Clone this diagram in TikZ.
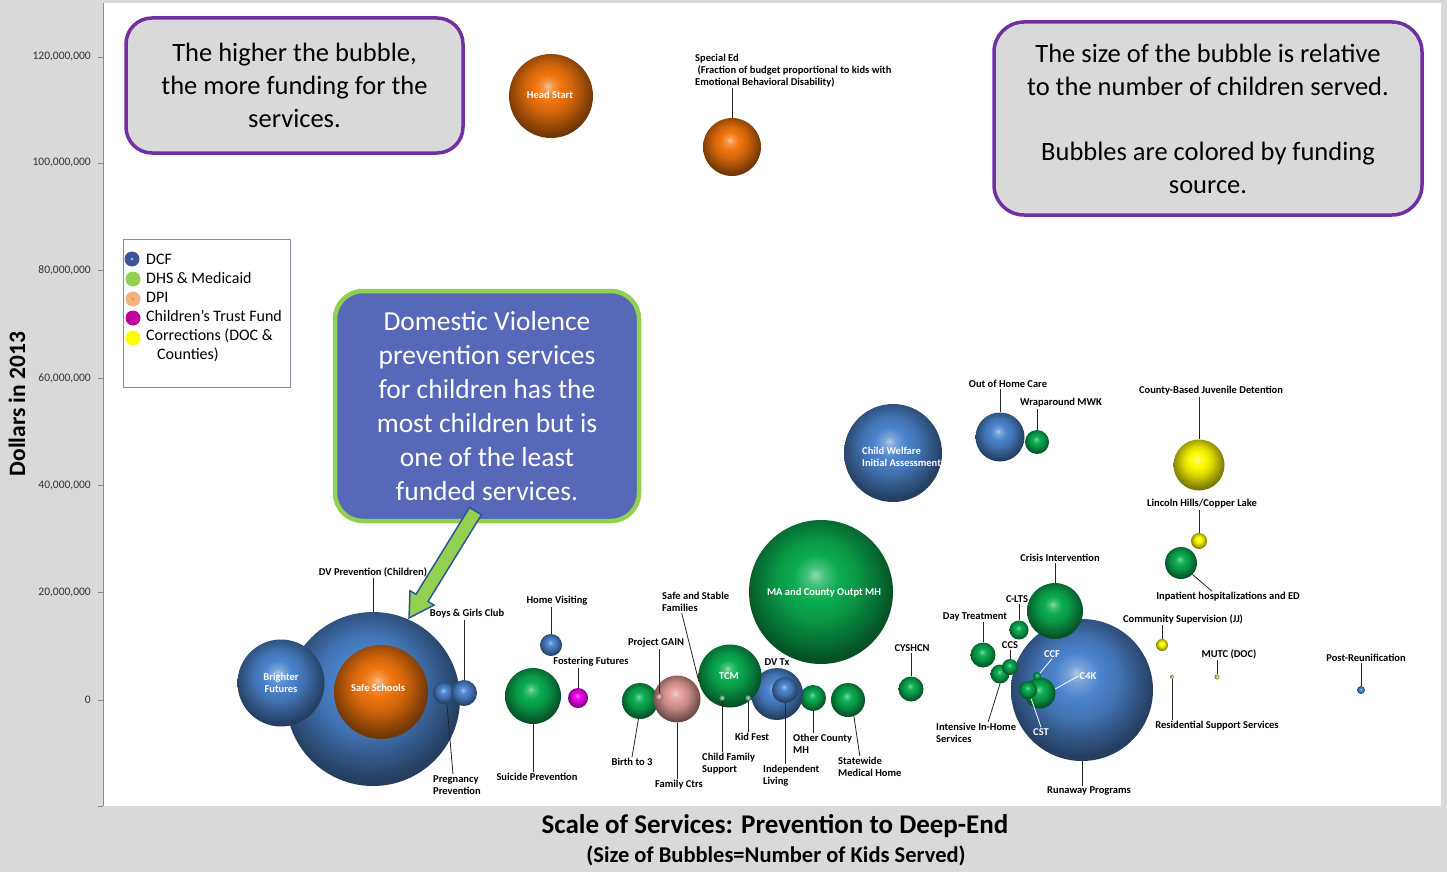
\documentclass[tikz,border=0pt]{standalone}
\usepackage{fontspec}
\setmainfont{Carlito}
\definecolor{pagegray}{RGB}{217,217,217}
\definecolor{notegray}{RGB}{217,217,217}
\definecolor{notepurple}{RGB}{112,48,160}
\definecolor{dvfill}{RGB}{88,104,184}
\definecolor{dvedge}{RGB}{146,208,80}
\definecolor{arrowedge}{RGB}{47,85,151}
\definecolor{bblue}{RGB}{75,132,205}
\definecolor{bgreen}{RGB}{10,172,80}
\definecolor{borange}{RGB}{240,116,12}
\definecolor{byellow}{RGB}{252,248,0}
\definecolor{bmagenta}{RGB}{240,0,240}
\definecolor{bpink}{RGB}{225,155,152}
\definecolor{bpale}{RGB}{205,215,110}
\definecolor{keydcf}{RGB}{62,84,150}
\definecolor{keydhs}{RGB}{146,208,80}
\definecolor{keydpi}{RGB}{244,177,131}
\definecolor{keyctf}{RGB}{192,0,156}
\definecolor{keycor}{RGB}{255,255,0}
\definecolor{keyframe}{RGB}{127,143,169}
% glossy sphere shading, tinted by the colour spherecol
\colorlet{spherecol}{gray}
\pgfdeclareradialshading[spherecol]{sphere}{\pgfqpoint{-2bp}{6bp}}{%
  color(0bp)=(spherecol!45!white); color(3bp)=(spherecol!75!white);
  color(8bp)=(spherecol); color(14bp)=(spherecol!88!black);
  color(20bp)=(spherecol!68!black); color(26bp)=(spherecol!48!black);
  color(50bp)=(spherecol!35!black)}
\begin{document}
\begin{tikzpicture}[x=1pt,y=-1pt,
  sphere color/.code={\colorlet{spherecol}{#1}},
  bubble/.style 2 args={circle,inner sep=0pt,minimum size=#2,shading=sphere,sphere color=#1},
  svclabel/.style={font=\bfseries\fontsize{10.5}{12}\selectfont,inner sep=1pt,align=left},
  svcwhite/.style={svclabel,text=white},
  leader/.style={draw=black!85,line width=0.8pt},
  inleader/.style={draw=white,line width=0.8pt},
  axisline/.style={draw=black!45,line width=0.8pt},
  ticklbl/.style={font=\fontsize{11.5}{13}\selectfont,text=black!80,anchor=east,inner sep=0pt},
  notebox/.style={rounded corners=26pt,draw=notepurple,line width=3.5pt,fill=notegray,align=center,font=\fontsize{26.5}{33}\selectfont,inner sep=0pt},
  keydot/.style={circle,inner sep=0pt,minimum size=15pt},
  keytxt/.style={font=\fontsize{16}{19}\selectfont,anchor=west,inner sep=0pt}
]
\useasboundingbox (0,0) rectangle (1447,872);
\fill[pagegray] (0,0) rectangle (1447,872);
\fill[white] (103,3) rectangle (1441,806);

% value axis
\draw[axisline] (103,3) -- (103,806);
\foreach \y in {57,163,270,378,485,592,700,806} \draw[axisline] (98,\y) -- (103,\y);
\node[ticklbl] (t120) at (91,57) {120,000,000};
\node[ticklbl] (t100) at (91,163) {100,000,000};
\node[ticklbl] (t80) at (91,270) {80,000,000};
\node[ticklbl] (t60) at (91,378) {60,000,000};
\node[ticklbl] (t40) at (91,485) {40,000,000};
\node[ticklbl] (t20) at (91,592) {20,000,000};
\node[ticklbl] (t0) at (91,700) {0};
\node[rotate=90,font=\bfseries\fontsize{23.5}{26}\selectfont] (ytitle) at (17,404) {Dollars in 2013};

% axis title
\node[font=\bfseries\fontsize{27}{30}\selectfont] (xtitle) at (775,826) {Scale of Services: Prevention to Deep-End};
\node[font=\bfseries\fontsize{22.5}{26}\selectfont] (xsub) at (776,856) {(Size of Bubbles=Number of Kids Served)};

% explanatory notes
\node[notebox,minimum width=337pt,minimum height=135pt] (note1) at (294.5,85.5)
  {The higher the bubble,\\the more funding for the\\services.};
\node[notebox,rounded corners=30pt,minimum width=428pt,minimum height=193pt] (note2) at (1208,118.5)
  {The size of the bubble is relative\\to the number of children served.\\[32pt]Bubbles are colored by funding\\source.};

% legend
\node[draw=keyframe,fill=white,line width=0.8pt,minimum width=167pt,minimum height=148pt,inner sep=0pt] (key) at (206.5,313) {};
\node[keydot,fill=keydcf] (kdcf) at (132,259) {};
\node[circle,inner sep=0pt,minimum size=3pt,fill=bblue!60] (kdcfc) at (kdcf) {};
\node[keydot,fill=keydhs] (kdhs) at (133,279) {};
\node[keydot,fill=keydpi] (kdpi) at (133,299) {};
\node[circle,inner sep=0pt,minimum size=3pt,fill=orange!80!yellow] (kdpic) at (kdpi) {};
\node[keydot,fill=keyctf] (kctf) at (133,318) {};
\node[keydot,fill=keycor] (kcor) at (133,338) {};
\node[keytxt] (tdcf) at (146,259) {DCF};
\node[keytxt] (tdhs) at (146,278) {DHS \& Medicaid};
\node[keytxt] (tdpi) at (146,297) {DPI};
\node[keytxt] (tctf) at (146,316) {Children’s Trust Fund};
\node[keytxt] (tcor) at (146,336) {Corrections (DOC \&};
\node[keytxt] (tcor2) at (157,355) {Counties)};

% ---- bubbles ----
\node[bubble={borange}{84pt}] (hs) at (551,96) {};
\node[bubble={borange}{58pt}] (sped) at (732,147) {};
\node[bubble={bblue}{98pt}] (cwia) at (893,453) {};
\node[bubble={bblue}{49pt}] (ooh) at (1000,437) {};
\node[bubble={bgreen}{24pt}] (wrap) at (1037,442) {};
\node[bubble={byellow}{51pt}] (cbjd) at (1199,465) {};
\node[bubble={byellow}{16pt}] (lhcl) at (1199,541) {};
\node[bubble={bgreen}{32pt}] (inp) at (1181,563) {};

\node[bubble={bblue}{142pt}] (run) at (1082,690) {};
\node[bubble={bgreen}{56pt}] (cri) at (1055,611) {};
\node[bubble={bgreen}{19pt}] (clts) at (1019,630) {};
\node[bubble={bgreen}{25pt}] (dayt) at (983,655) {};
\node[bubble={bgreen}{19pt}] (iih) at (1000,674) {};
\node[bubble={bgreen}{16pt}] (ccs) at (1010,667) {};
\node[bubble={bgreen}{31pt}] (c4k) at (1040,693) {};
\node[bubble={bgreen}{18pt}] (cst) at (1028,690) {};
\node[bubble={bgreen}{8pt}] (ccf) at (1037,676) {};
\node[bubble={byellow}{12pt}] (cs) at (1162,645) {};
\node[bubble={bpale}{4pt}] (rss) at (1172,677) {};
\node[bubble={bpale}{5pt}] (mutc) at (1217,677) {};
\node[bubble={bblue}{8pt}] (pr) at (1361,690) {};

\node[bubble={bgreen}{144pt}] (ma) at (821,592) {};
\node[bubble={bgreen}{25pt}] (cyshcn) at (911,689) {};
\node[bubble={bgreen}{34pt}] (smh) at (848,700) {};
\node[bubble={bgreen}{26pt}] (ocm) at (813,698) {};
\node[bubble={bblue}{52pt}] (dvtx) at (777,694) {};
\node[bubble={bblue}{26pt}] (il) at (785,690) {};
\node[bubble={bgreen}{63pt}] (tcm) at (730,676) {};
\node[bubble={bgreen!60!white}{6pt}] (kf) at (748,698) {};
\node[bubble={bgreen!60!white}{6pt}] (cfs) at (722,698) {};
\node[bubble={bgreen}{36pt}] (b3) at (640,701) {};
\node[bubble={bpink}{47pt}] (fc) at (677,699) {};
\node[bubble={bpink}{8pt}] (pg) at (659,697) {};
\node[bubble={bmagenta}{20pt}] (ff) at (578,698) {};
\node[bubble={bblue}{22pt}] (hv) at (551,645) {};
\node[bubble={bgreen}{56pt}] (sp) at (533,696) {};

\node[bubble={bblue}{174pt}] (dvp) at (373,699) {};
\node[bubble={bblue}{87pt}] (bf) at (281,683) {};
\node[bubble={borange}{94pt}] (ss) at (381,692) {};
\node[bubble={bblue}{22pt}] (pp) at (444,693) {};
\node[bubble={bblue}{26pt}] (bgc) at (464,693) {};

% ---- labels inside bubbles ----
\node[svcwhite] (hsl) at (550,95) {Head Start};
\node[svcwhite,anchor=north west] (cwial) at (861,446) {Child Welfare\\Initial Assessment};
\node[svcwhite,align=center] (mal) at (824,593) {MA and County Outpt MH};
\node[svcwhite] (tcml) at (729,676) {TCM};
\node[svcwhite,align=center] (bfl) at (281,683) {Brighter\\Futures};
\node[svcwhite] (ssl) at (378,688) {Safe Schools};
\node[svcwhite] (ccfl) at (1052,654) {CCF};
\node[svcwhite] (c4kl) at (1088,676) {C4K};
\node[svcwhite] (cstl) at (1041,732) {CST};

% ---- labels outside bubbles ----
\node[svclabel,anchor=north west] (spedl) at (694,53) {Special Ed\\\ (Fraction of budget proportional to kids with\\Emotional Behavioral Disability)};
\node[svclabel] (oohl) at (1008,384) {Out of Home Care};
\node[svclabel] (wrapl) at (1061,403) {Wraparound MWK};
\node[svclabel] (cbjdl) at (1211,391) {County-Based Juvenile Detention};
\node[svclabel] (lhcll) at (1202,504) {Lincoln Hills/Copper Lake};
\node[svclabel] (inpl) at (1228,597) {Inpatient hospitalizations and ED};
\node[svclabel] (cril) at (1060,558) {Crisis Intervention};
\node[svclabel] (cltsl) at (1017,599) {C-LTS};
\node[svclabel] (daytl) at (975,617) {Day Treatment};
\node[svclabel] (ccsl) at (1010,645) {CCS};
\node[svclabel,anchor=north west] (iihl) at (935,722) {Intensive In-Home\\Services};
\node[svclabel] (runl) at (1089,791) {Runaway Programs};
\node[svclabel] (csl) at (1183,619) {Community Supervision (JJ)};
\node[svclabel] (mutcl) at (1229,654) {MUTC (DOC)};
\node[svclabel] (rssl) at (1217,726) {Residential Support Services};
\node[svclabel] (prl) at (1366,658) {Post-Reunification};
\node[svclabel] (cyshcnl) at (912,648) {CYSHCN};
\node[svclabel,anchor=north west] (smhl) at (837,756) {Statewide\\Medical Home};
\node[svclabel,anchor=north west] (ocml) at (792,733) {Other County\\MH};
\node[svclabel] (dvtxl) at (777,662) {DV Tx};
\node[svclabel,anchor=north west] (ill) at (762,764) {Independent\\Living};
\node[svclabel] (kfl) at (752,737) {Kid Fest};
\node[svclabel,anchor=north west] (cfsl) at (701,752) {Child Family\\Support};
\node[svclabel,anchor=north west] (ssfl) at (661,591) {Safe and Stable\\Families};
\node[svclabel] (pgl) at (656,643) {Project GAIN};
\node[svclabel] (fcl) at (679,785) {Family Ctrs};
\node[svclabel] (b3l) at (632,762) {Birth to 3};
\node[svclabel] (ffl) at (591,662) {Fostering Futures};
\node[svclabel] (hvl) at (557,601) {Home Visiting};
\node[svclabel] (spl) at (537,777) {Suicide Prevention};
\node[svclabel] (bgcl) at (467,614) {Boys \& Girls Club};
\node[svclabel,anchor=north west] (ppl) at (432,774) {Pregnancy\\Prevention};
\node[svclabel] (dvpl) at (373,572) {DV Prevention (Children)};

% ---- leader lines ----
\draw[leader] (sped.north) -- (sped.north |- spedl.south);
\draw[leader] (ooh.north) -- (ooh.north |- oohl.south);
\draw[leader] (wrap.north) -- (wrap.north |- wrapl.south);
\draw[leader] (cbjd.north) -- (cbjd.north |- cbjdl.south);
\draw[leader] (lhcl.north) -- (lhcl.north |- lhcll.south);
\draw[leader] (inp.-45) -- ([xshift=-16pt]inpl.north);
\draw[leader] (cri.north) -- (cri.north |- cril.south);
\draw[leader] (clts.north) -- (clts.north |- cltsl.south);
\draw[leader] (dayt.north) -- (dayt.north |- daytl.south);
\draw[leader] (ccs.north) -- (ccs.north |- ccsl.south);
\draw[leader] (iih.south) -- ([xshift=12pt]iihl.north);
\draw[leader] (run.south) -- (run.south |- runl.north);
\draw[leader] (cs.north) -- (cs.north |- csl.south);
\draw[leader] (mutc.north) -- (mutc.north |- mutcl.south);
\draw[leader] (rss.south) -- (rss.south |- rssl.north);
\draw[leader] (pr.north) -- (pr.north |- prl.south);
\draw[leader] (cyshcn.north) -- (cyshcn.north |- cyshcnl.south);
\draw[leader] (smh.-70) -- ([xshift=-10pt]smhl.north);
\draw[leader] (ocm.south) -- (ocm.south |- ocml.north);
\draw[leader] (il.south) -- (il.south |- ill.north);
\draw[leader] (kf.south) -- (kf.south |- kfl.north);
\draw[leader] (cfs.south) -- (cfs.south |- cfsl.north);
\draw[leader] ([xshift=-14pt]ssfl.south) -- (tcm.190);
\draw[leader] (pg.north) -- (pg.north |- pgl.south);
\draw[leader] (fc.south) -- (fc.south |- fcl.north);
\draw[leader] (b3.-95) -- (b3l.north);
\draw[leader] (ff.north) -- (ff.north |- ffl.south);
\draw[leader] (hv.north) -- (hv.north |- hvl.south);
\draw[leader] (sp.south) -- (sp.south |- spl.north);
\draw[leader] (bgc.north) -- (bgc.north |- bgcl.south);
\draw[leader] (pp.-75) -- ([xshift=-4pt]ppl.north);
\draw[leader] (dvp.north) -- (dvp.north |- dvpl.south);
\draw[inleader] (ccf.45) -- (ccfl.south);
\draw[inleader] (c4k.15) -- (c4kl.west);
\draw[inleader] (cst.-70) -- (cstl.north);

% ---- domestic violence note with block arrow ----
\node[rounded corners=28pt,draw=dvedge,line width=4.5pt,fill=dvfill,text=white,align=center,
      font=\fontsize{27.5}{34}\selectfont,inner sep=0pt,minimum width=304pt,minimum height=230pt] (dvnote) at (487,406)
  {Domestic Violence\\prevention services\\for children has the\\most children but is\\one of the least\\funded services.};
\filldraw[fill=dvedge,draw=arrowedge,line width=1.5pt,line join=miter]
  (469.5,507.5) -- (481.5,514.7) -- (428.0,601.5) -- (434.0,605.1) -- (409,618)
  -- (410.0,590.7) -- (416.0,594.3) -- cycle;
\end{tikzpicture}
\end{document}
